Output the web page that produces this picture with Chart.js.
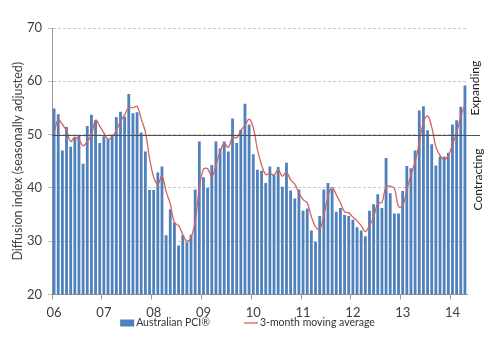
<!DOCTYPE html>
<html>
<head>
<meta charset="utf-8">
<script src="https://cdn.jsdelivr.net/npm/chart.js@4/dist/chart.umd.min.js"></script>
<style>
    html, body { margin: 0; padding: 0; background: #fff; }
    .chart-box { width: 499px; height: 350px; position: relative; }
</style>
</head>
<body>
<div class="chart-box"><canvas id="pciChart"></canvas></div>
<script>
// tick labels for the x axis (one per January)
let yearLabels = ['06', '07', '08', '09', '10', '11', '12', '13', '14']
let monthNames = ['Jan', 'Feb', 'Mar', 'Apr', 'May', 'Jun', 'Jul', 'Aug', 'Sep', 'Oct', 'Nov', 'Dec']
let monthCount = 100 // Jan 06 .. Apr 14

// Australian PCI, monthly
let pciValues = [
    54.9, 53.8, 47.0, 51.4, 47.7, 49.4, 49.9, 44.5, 51.6, 53.7, 52.7, 48.4,
    49.7, 49.1, 50.0, 53.3, 54.3, 53.4, 57.6, 54.0, 54.2, 50.4, 46.8, 39.6,
    39.6, 42.9, 44.0, 31.1, 36.0, 33.5, 29.2, 31.1, 29.8, 31.2, 39.7, 48.7,
    42.0, 40.0, 44.3, 48.7, 47.4, 48.7, 46.8, 53.0, 48.4, 50.9, 55.8, 51.9,
    46.3, 43.4, 43.2, 40.9, 44.0, 42.4, 43.9, 40.2, 44.7, 39.5, 38.0, 39.7,
    35.7, 36.1, 32.0, 29.9, 34.7, 39.7, 40.9, 39.8, 35.5, 36.2, 34.9, 34.7,
    34.0, 32.6, 32.0, 30.9, 35.7, 36.9, 38.8, 36.2, 45.6, 39.0, 35.2, 35.2,
    39.4, 44.1, 43.7, 47.0, 54.5, 55.3, 50.8, 48.2, 44.2, 45.9, 45.9, 46.6,
    51.9, 52.7, 55.2, 59.2
]

// 3-month moving average
let movingAvg = [
    50.3, 52.8, 51.9, 50.7, 48.7, 49.5, 49.0, 47.9, 48.7, 49.9, 52.7, 51.6,
    50.3, 49.1, 49.6, 50.8, 52.5, 53.7, 55.1, 55.0, 55.3, 52.9, 50.5, 45.6,
    42.0, 40.7, 42.2, 39.3, 37.0, 33.5, 32.9, 31.3, 30.0, 30.7, 33.6, 39.9,
    43.5, 43.6, 42.1, 44.3, 46.8, 48.3, 47.6, 49.5, 49.4, 50.8, 51.7, 52.9,
    51.3, 47.2, 44.3, 42.5, 42.7, 42.4, 43.4, 42.2, 42.9, 41.5, 40.7, 39.1,
    37.8, 37.2, 34.6, 32.7, 32.2, 34.8, 38.4, 40.1, 38.7, 37.2, 35.5, 35.3,
    34.5, 33.8, 32.9, 31.8, 32.9, 34.5, 37.1, 37.3, 40.2, 40.3, 39.9, 36.5,
    36.6, 39.6, 42.4, 44.9, 48.4, 52.3, 53.5, 51.4, 47.7, 46.1, 45.3, 46.1,
    48.1, 50.4, 53.3, 55.7
]

let yTicks = [20, 30, 40, 50, 60, 70]
let thresholdValue = 50
let fontFamily = "Lato, 'Liberation Sans', sans-serif"

let categories = []
for (let i = 0; i < monthCount; i++) {
    categories.push(monthNames[i % 12] + ' ' + yearLabels[Math.floor(i / 12)])
}

Chart.defaults.font.family = fontFamily
Chart.defaults.color = '#404040'

// 50 line + Expanding / Contracting captions
let thresholdPlugin = {
    id: 'threshold',
    afterDatasetsDraw(chart) {
        let ctx = chart.ctx
        let area = chart.chartArea
        let y = chart.scales.y.getPixelForValue(thresholdValue)
        ctx.save()
        ctx.strokeStyle = '#505050'
        ctx.lineWidth = 1
        ctx.beginPath()
        ctx.moveTo(area.left, Math.round(y) + 0.5)
        ctx.lineTo(area.right + 13, Math.round(y) + 0.5)
        ctx.stroke()

        ctx.fillStyle = '#222'
        ctx.font = '12px ' + fontFamily
        ctx.textBaseline = 'middle'
        ctx.translate(area.right + 8, y)
        ctx.rotate(-Math.PI / 2)
        ctx.textAlign = 'left'
        ctx.fillText('Expanding', 19, 0)
        ctx.textAlign = 'right'
        ctx.fillText('Contracting', -14, 3)
        ctx.restore()
    }
}

// legend drawn under the axis, Excel style
let legendPlugin = {
    id: 'bottomLegend',
    afterDraw(chart) {
        let ctx = chart.ctx
        let items = chart.data.datasets.slice().reverse()
        ctx.save()
        ctx.font = '10.5px ' + fontFamily
        ctx.textBaseline = 'middle'
        let gap = 34
        let total = 0
        items.forEach((ds, i) => {
            total += 14 + 2 + ctx.measureText(ds.label).width
            if (i > 0) total += gap
        })
        let x = chart.width / 2 - 2 - total / 2
        let y = 323
        items.forEach(ds => {
            if (ds.type == 'bar') {
                ctx.fillStyle = ds.backgroundColor
                ctx.fillRect(x, y - 3.5, 14, 7)
            } else {
                ctx.strokeStyle = ds.borderColor
                ctx.lineWidth = ds.borderWidth
                ctx.beginPath()
                ctx.moveTo(x, y)
                ctx.lineTo(x + 14, y)
                ctx.stroke()
            }
            ctx.fillStyle = '#333'
            ctx.textAlign = 'left'
            ctx.fillText(ds.label, x + 16, y)
            x += 16 + ctx.measureText(ds.label).width + gap
        })
        ctx.restore()
    }
}

new Chart('pciChart', {
    data: {
        labels: categories,
        datasets: [{
            type: 'line',
            label: '3-month moving average',
            data: movingAvg,
            borderColor: '#d9605c',
            borderWidth: 1.3,
            pointRadius: 0,
            tension: 0.4,
            order: 0
        }, {
            type: 'bar',
            label: 'Australian PCI®',
            data: pciValues,
            backgroundColor: '#4f81bd',
            barPercentage: 0.68,
            categoryPercentage: 1.0,
            order: 1
        }]
    },
    options: {
        responsive: true,
        maintainAspectRatio: false,
        animation: false,
        layout: {
            padding: { left: 0, right: 32, top: 28, bottom: 23 }
        },
        scales: {
            x: {
                offset: true,
                grid: {
                    offset: true,
                    drawOnChartArea: false,
                    tickLength: 5,
                    color: (c) => (c.index % 12 == 0) ? '#999' : 'rgba(0,0,0,0)'
                },
                border: { color: '#999' },
                ticks: {
                    autoSkip: false,
                    maxRotation: 0,
                    padding: 6,
                    font: { size: 13 },
                    callback: (val, idx) => (idx % 12 == 0) ? yearLabels[idx / 12] : ''
                }
            },
            y: {
                min: yTicks[0],
                max: yTicks[yTicks.length - 1],
                afterBuildTicks: (scale) => {
                    scale.ticks = yTicks.map(v => ({ value: v }))
                },
                afterFit: (scale) => {
                    scale.width = 52
                },
                grid: {
                    color: '#c8c8c8',
                    tickLength: 4,
                    tickColor: '#bbb'
                },
                border: { color: '#999', dash: [3, 2] },
                ticks: {
                    padding: 6,
                    font: { size: 13 }
                },
                title: {
                    display: true,
                    text: 'Diffusion index (seasonally adjusted)',
                    font: { size: 12.5 },
                    padding: { top: 10, bottom: 0 }
                }
            }
        },
        plugins: {
            legend: { display: false },
            tooltip: { enabled: false }
        }
    },
    plugins: [thresholdPlugin, legendPlugin]
})
</script>
</body>
</html>
